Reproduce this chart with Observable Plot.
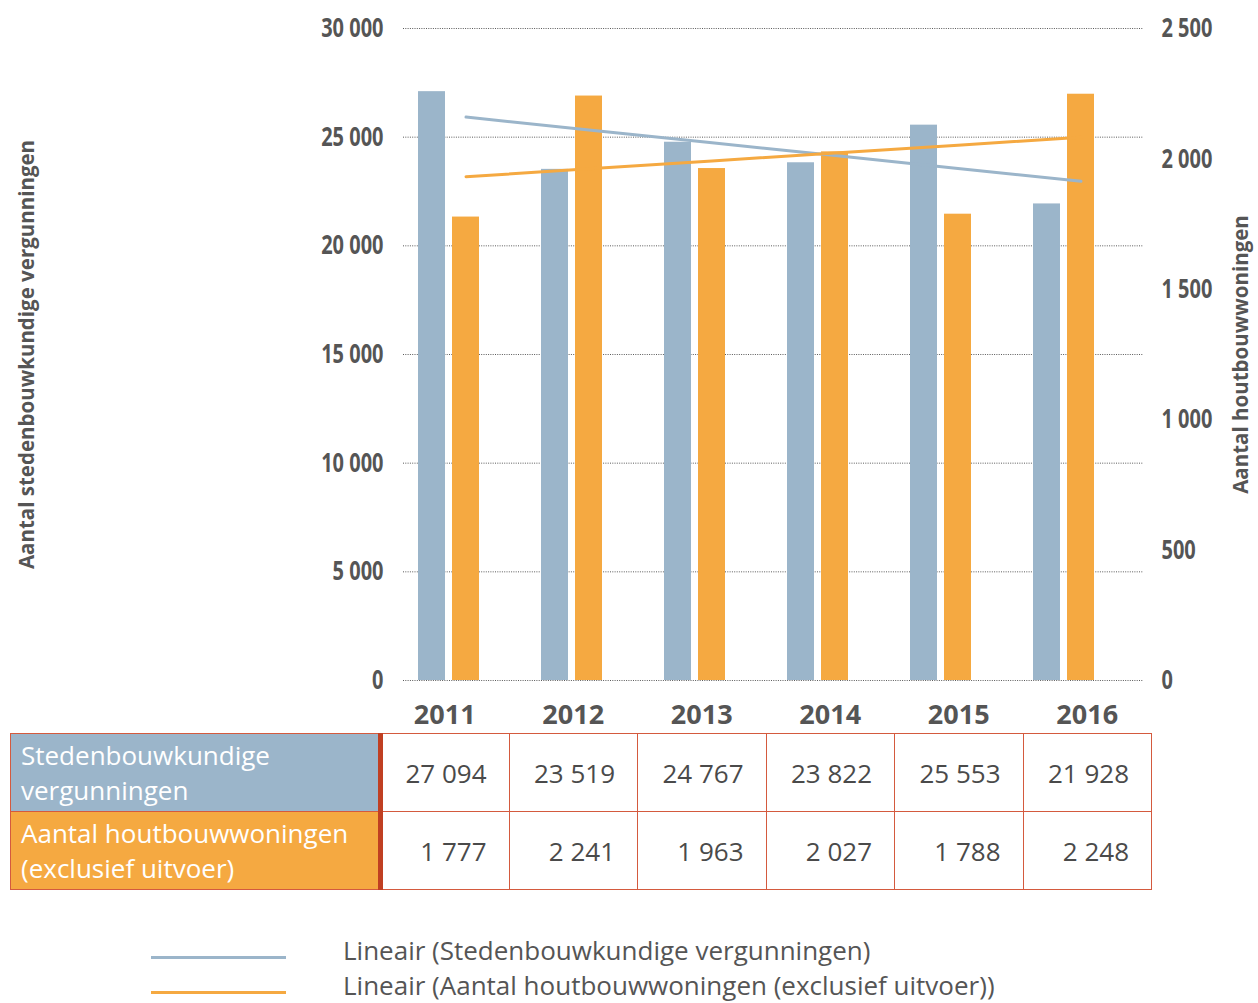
<!DOCTYPE html>
<html>
<head>
<meta charset="utf-8">
<script src="https://cdn.jsdelivr.net/npm/d3@7"></script>
<script src="https://cdn.jsdelivr.net/npm/@observablehq/plot@0.6"></script>
<style>
  html, body { margin: 0; padding: 0; background: #fff; }
  #wrap { position: relative; width: 1258px; height: 1003px; overflow: hidden; }
  #chart { position: absolute; left: 0; top: 0; }
  #tbl { position: absolute; left: 10px; top: 693px; border-collapse: collapse; table-layout: fixed; font-family: "Open Sans", sans-serif; }
  #tbl td { padding: 0; }
  #tbl tr.years td { height: 40px; text-align: center; font-weight: 700; font-size: 27px; color: #555; border: none; vertical-align: middle; line-height: 1; }
  #tbl tr.data td { height: 78px; border: 1px solid #d45a3e; font-size: 26px; color: #4a4a4a; text-align: right; padding-right: 22px; box-sizing: border-box; }
  #tbl tr.data td.head { text-align: left; padding-left: 10px; padding-right: 4px; color: #fff; line-height: 35px; border-right: 5px solid #c03f22; font-size: 26px; }
  #legend { position: absolute; left: 0; top: 924px; font-family: "Open Sans", sans-serif; font-size: 26px; color: #555; }
  .lg { position: absolute; white-space: nowrap; }
  .lg .sw { position: absolute; left: 151px; width: 135px; height: 3px; }
  .lg .tx { position: absolute; left: 343px; top: -20px; line-height: 28px; }
</style>
</head>
<body>
<div id="wrap">
  <div id="chart"></div>
  <table id="tbl"></table>
  <div id="legend"></div>
</div>
<script>
// ---- data ----
const years = ["2011", "2012", "2013", "2014", "2015", "2016"];
const permits = [27094, 23519, 24767, 23822, 25553, 21928];      // Stedenbouwkundige vergunningen (left axis)
const houses = [1777, 2241, 1963, 2027, 1788, 2248];             // Aantal houtbouwwoningen (right axis)
const leftTicks = [0, 5000, 10000, 15000, 20000, 25000, 30000];
const rightTicks = [0, 500, 1000, 1500, 2000, 2500];
const seriesNames = ["Stedenbouwkundige vergunningen", "Aantal houtbouwwoningen (exclusief uitvoer)"];
const headLines = [["Stedenbouwkundige", "vergunningen"], ["Aantal houtbouwwoningen", "(exclusief uitvoer)"]];
const legendLabels = ["Lineair (Stedenbouwkundige vergunningen)", "Lineair (Aantal houtbouwwoningen (exclusief uitvoer))"];
const leftTitle = "Aantal stedenbouwkundige vergunningen";
const rightTitle = "Aantal houtbouwwoningen";

const BLUE = "#9bb5ca";
const ORANGE = "#f5a941";
const ratio = 30000 / 2500; // right-axis units to left-axis units

const fmtAxis = v => d3.format(",")(v).replace(/,/g, " ");
const fmtTable = v => d3.format(",")(v).replace(/,/g, " ");

// linear fit (trend line) computed from the data
function fit(vals) {
  const n = vals.length, xs = d3.range(n);
  const mx = d3.mean(xs), my = d3.mean(vals);
  const sxy = d3.sum(xs, (x, i) => (x - mx) * (vals[i] - my));
  const sxx = d3.sum(xs, x => (x - mx) ** 2);
  const b = sxy / sxx, a = my - b * mx;
  return xs.map(x => a + b * x);
}
const trendP = fit(permits);
const trendH = fit(houses);

const rows = years.map((y, i) => ({year: y, permits: permits[i], houses: houses[i], tP: trendP[i], tH: trendH[i]}));

const axisFont = {fontSize: 27, fontWeight: "bold", fontFamily: "'Open Sans', sans-serif"};

const chart = Plot.plot({
  width: 1258,
  height: 700,
  marginLeft: 403,
  marginRight: 115,
  marginTop: 28,
  marginBottom: 20,
  style: {fontFamily: "'Open Sans', sans-serif", background: "transparent"},
  x: {type: "band", domain: years, paddingInner: 0, paddingOuter: 0, axis: null},
  y: {domain: [0, 30000], axis: null},
  marks: [
    Plot.gridY(leftTicks, {stroke: "#5a5a5a", strokeOpacity: 1, strokeWidth: 1, strokeDasharray: "1,1.3"}),
    Plot.axisY(leftTicks, {anchor: "left", tickSize: 0, tickPadding: 20, tickFormat: fmtAxis, color: "#555", ...axisFont,
      label: leftTitle, labelAnchor: "center", labelOffset: 384, labelArrow: "none"}),
    Plot.axisY(rightTicks.map(v => v * ratio), {anchor: "right", tickSize: 0, tickPadding: 18, tickFormat: d => fmtAxis(d / ratio), color: "#555", ...axisFont,
      textAnchor: "start", label: rightTitle, labelAnchor: "center", labelOffset: 104, labelArrow: "none"}),
    Plot.barY(rows, {x: "year", y: "permits", fill: BLUE, insetLeft: 14, insetRight: 82}),
    Plot.barY(rows, {x: "year", y: d => d.houses * ratio, fill: ORANGE, insetLeft: 48, insetRight: 48}),
    Plot.line(rows, {x: "year", y: "tP", stroke: BLUE, strokeWidth: 3}),
    Plot.line(rows, {x: "year", y: d => d.tH * ratio, stroke: ORANGE, strokeWidth: 3})
  ]
});
document.getElementById("chart").appendChild(chart);

// condensed look for tick labels (no condensed font installed)
chart.querySelectorAll('g[aria-label="y-axis tick label"] text').forEach(t => {
  const L = t.getComputedTextLength();
  t.setAttribute("textLength", (L * 0.74).toFixed(1));
  t.setAttribute("lengthAdjust", "spacingAndGlyphs");
});
// axis titles: smaller font to match the reference's condensed title length
chart.querySelectorAll('g[aria-label="y-axis label"] text').forEach(t => {
  t.setAttribute("font-size", "20.5");
  t.parentNode.setAttribute("font-size", "20.5");
});

// ---- data table ----
const tbl = document.getElementById("tbl");
const cg = document.createElement("colgroup");
cg.innerHTML = `<col style="width:370px">` + years.map(() => `<col style="width:128.5px">`).join("");
tbl.appendChild(cg);
const yr = document.createElement("tr");
yr.className = "years";
yr.innerHTML = `<td></td>` + years.map(y => `<td>${y}</td>`).join("");
tbl.appendChild(yr);
[permits, houses].forEach((vals, si) => {
  const tr = document.createElement("tr");
  tr.className = "data";
  const bg = si === 0 ? BLUE : ORANGE;
  tr.innerHTML = `<td class="head" style="background:${bg}" title="${seriesNames[si]}">${headLines[si].join("<br>")}</td>` +
    vals.map(v => `<td>${fmtTable(v)}</td>`).join("");
  tbl.appendChild(tr);
});

// ---- legend ----
const lg = document.getElementById("legend");
legendLabels.forEach((t, i) => {
  const d = document.createElement("div");
  d.className = "lg";
  d.style.top = (32 + i * 35) + "px";
  d.innerHTML = `<div class="sw" style="background:${i === 0 ? BLUE : ORANGE}"></div><div class="tx">${t}</div>`;
  lg.appendChild(d);
});
</script>
</body>
</html>
